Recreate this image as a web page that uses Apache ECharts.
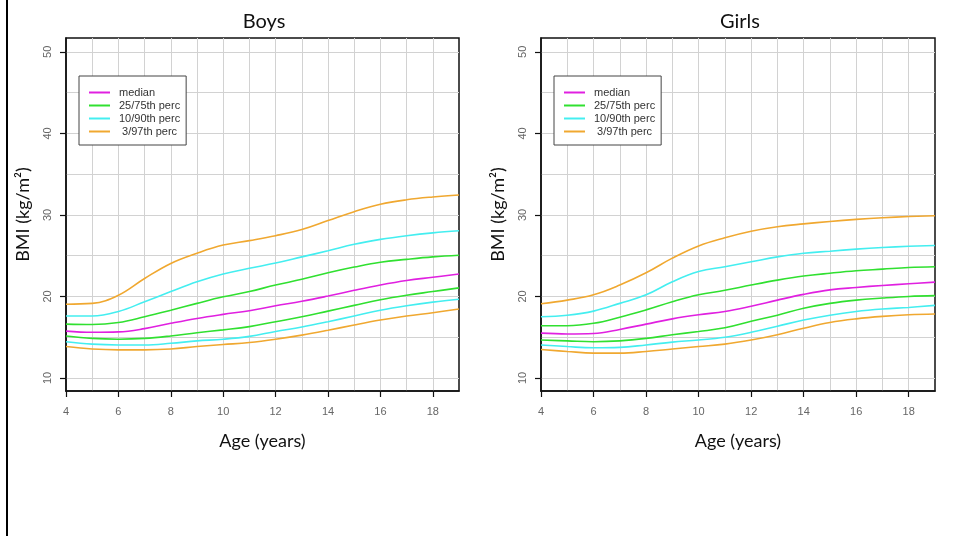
<!DOCTYPE html>
<html>
<head>
<meta charset="utf-8">
<script src="https://cdn.jsdelivr.net/npm/echarts@6/dist/echarts.min.js"></script>
<style>
html,body{margin:0;padding:0;background:#fff;}
#chart{width:954px;height:536px;}
</style>
</head>
<body>
<div id="chart"></div>
<script>
var ages = [4,5,6,7,8,9,10,11,12,13,14,15,16,17,18,19];
var xTickLabels = [4,6,8,10,12,14,16,18];
var yTickLabels = [10,20,30,40,50];
var xGridValues = [5,6,7,8,9,10,11,12,13,14,15,16,17,18];
var yGridValues = [10,15,20,25,30,35,40,45,50];
var panelTitles = ['Boys','Girls'];
var legendNames = ['median','25/75th perc','10/90th perc',' 3/97th perc'];

var boysP3  = [13.85,13.55,13.45,13.45,13.55,13.85,14.1,14.35,14.75,15.25,15.85,16.5,17.1,17.6,18.0,18.45];
var boysP10 = [14.45,14.15,14.05,14.05,14.25,14.55,14.75,15.1,15.7,16.25,16.9,17.6,18.3,18.85,19.3,19.65];
var boysP25 = [15.15,14.85,14.75,14.85,15.15,15.55,15.9,16.3,16.9,17.5,18.2,18.9,19.6,20.15,20.6,21.05];
var boysP50 = [15.75,15.6,15.65,16.05,16.7,17.3,17.8,18.25,18.85,19.4,20.05,20.75,21.4,21.95,22.35,22.75];
var boysP75 = [16.6,16.55,16.8,17.5,18.3,19.15,19.95,20.6,21.4,22.1,22.9,23.6,24.2,24.55,24.85,25.05];
var boysP90 = [17.6,17.6,18.15,19.35,20.6,21.8,22.75,23.45,24.1,24.85,25.6,26.4,27.0,27.45,27.8,28.05];
var boysP97 = [19.05,19.15,20.15,22.2,24.05,25.3,26.3,26.85,27.45,28.2,29.3,30.4,31.3,31.85,32.2,32.45];

var girlsP3  = [13.5,13.25,13.05,13.05,13.25,13.55,13.85,14.15,14.65,15.3,16.1,16.8,17.25,17.55,17.75,17.85];
var girlsP10 = [14.05,13.85,13.7,13.75,14.05,14.4,14.65,15.0,15.6,16.35,17.1,17.7,18.15,18.45,18.65,18.9];
var girlsP25 = [14.65,14.55,14.45,14.55,14.85,15.3,15.7,16.15,16.95,17.7,18.55,19.15,19.55,19.8,20.0,20.1];
var girlsP50 = [15.5,15.4,15.45,15.95,16.6,17.25,17.75,18.15,18.8,19.55,20.25,20.8,21.1,21.35,21.55,21.75];
var girlsP75 = [16.4,16.4,16.7,17.45,18.35,19.35,20.2,20.75,21.4,22.0,22.5,22.85,23.15,23.35,23.55,23.65];
var girlsP90 = [17.5,17.7,18.2,19.15,20.2,21.8,23.05,23.65,24.25,24.85,25.3,25.55,25.8,26.0,26.15,26.25];
var girlsP97 = [19.1,19.55,20.2,21.4,22.9,24.7,26.2,27.2,28.0,28.55,28.9,29.2,29.45,29.65,29.8,29.9];

var colMedian = '#e020e0', colGreen = '#30e030', colCyan = '#44eef0', colOrange = '#f0a830';

var panels = [
  {p3:boysP3,p10:boysP10,p25:boysP25,p50:boysP50,p75:boysP75,p90:boysP90,p97:boysP97},
  {p3:girlsP3,p10:girlsP10,p25:girlsP25,p50:girlsP50,p75:girlsP75,p90:girlsP90,p97:girlsP97}
];

var gridLefts = [66, 541];
var gridWidths = [393, 394];
var titleCenters = [259, 735];

function pairs(arr){ return ages.map(function(a,i){ return [a, arr[i]]; }); }

var labelFont = 'Liberation Sans, Arial, sans-serif';
var bigFont = 'Lato, "Open Sans", sans-serif';

var option = {
  backgroundColor: '#ffffff',
  animation: false,
  title: panelTitles.map(function(t,i){
    return {text: t, left: titleCenters[i], top: 7, textAlign: 'center',
      textStyle: {fontFamily: bigFont, fontSize: 20, fontWeight: 'normal', color: '#111'}};
  }),
  graphic: [{type:'rect', shape:{x:6, y:0, width:2, height:536}, style:{fill:'#000'}}],
  legend: gridLefts.map(function(gl,i){
    return {
      data: legendNames, orient: 'vertical', left: gl + 13, top: 76,
      padding: [10, 6, 7, 10], itemWidth: 21, itemHeight: 2, itemGap: 0,
      icon: 'rect',
      backgroundColor: '#fff', borderColor: '#444', borderWidth: 1, borderRadius: 0,
      selectedMode: false,
      textStyle: {fontFamily: labelFont, fontSize: 11, color: '#333', lineHeight: 13, padding: [0,0,0,4]}
    };
  }),
  grid: gridLefts.map(function(gl,i){
    return {left: gl, top: 38, width: gridWidths[i], height: 353, show: true,
      borderColor: '#111', borderWidth: 1.5, backgroundColor: 'transparent'};
  }),
  xAxis: [],
  yAxis: [],
  series: []
};

gridLefts.forEach(function(gl, i){
  // grid-line axes (no labels, no visible ticks)
  option.xAxis.push({type: 'value', gridIndex: i, min: 4, max: 19, position: 'bottom',
    axisLine: {show: false}, axisLabel: {show: false},
    axisTick: {show: false, customValues: xGridValues},
    splitLine: {show: true, lineStyle: {color: '#d2d2d2', width: 1}}, z: 0});
  option.yAxis.push({type: 'value', gridIndex: i, min: 8.4, max: 51.7, position: 'left',
    axisLine: {show: false}, axisLabel: {show: false},
    axisTick: {show: false, customValues: yGridValues},
    splitLine: {show: true, lineStyle: {color: '#d2d2d2', width: 1}}, z: 0});
});

gridLefts.forEach(function(gl, i){
  // labelled axes
  option.xAxis.push({type: 'value', gridIndex: i, min: 4, max: 19, position: 'bottom',
    name: 'Age (years)', nameLocation: 'middle', nameGap: 41,
    nameTextStyle: {fontFamily: bigFont, fontSize: 18, color: '#111'},
    axisLine: {show: true, onZero: false, lineStyle: {color: '#111', width: 1.5}},
    axisTick: {show: true, inside: false, length: 6, customValues: xTickLabels, lineStyle: {color: '#111', width: 1.2}},
    axisLabel: {show: true, margin: 15, customValues: xTickLabels, fontFamily: labelFont, fontSize: 11, color: '#666'},
    splitLine: {show: false}
  });
  option.yAxis.push({type: 'value', gridIndex: i, min: 8.4, max: 51.7, position: 'left',
    name: 'BMI (kg/m\u00b2)', nameLocation: 'middle', nameGap: 34, nameRotate: 90,
    nameTextStyle: {fontFamily: bigFont, fontSize: 18, color: '#111'},
    axisLine: {show: true, onZero: false, lineStyle: {color: '#111', width: 1.5}},
    axisTick: {show: true, inside: false, length: 6, customValues: yTickLabels, lineStyle: {color: '#111', width: 1.2}},
    axisLabel: {show: true, rotate: 90, margin: 13, customValues: yTickLabels, fontFamily: labelFont, fontSize: 11, color: '#666'},
    splitLine: {show: false}
  });
});

panels.forEach(function(p, i){
  var defs = [
    [' 3/97th perc', p.p3, colOrange], ['10/90th perc', p.p10, colCyan], ['25/75th perc', p.p25, colGreen],
    ['median', p.p50, colMedian],
    ['25/75th perc', p.p75, colGreen], ['10/90th perc', p.p90, colCyan], [' 3/97th perc', p.p97, colOrange]
  ];
  defs.forEach(function(d){
    option.series.push({
      type: 'line', name: d[0], xAxisIndex: i + 2, yAxisIndex: i + 2,
      data: pairs(d[1]), smooth: 0.4, symbol: 'none',
      lineStyle: {color: d[2], width: 1.6}, itemStyle: {color: d[2]},
      emphasis: {disabled: true}
    });
  });
});

var chart = echarts.init(document.getElementById('chart'), null, {renderer: 'canvas'});
chart.setOption(option);
</script>
</body>
</html>
